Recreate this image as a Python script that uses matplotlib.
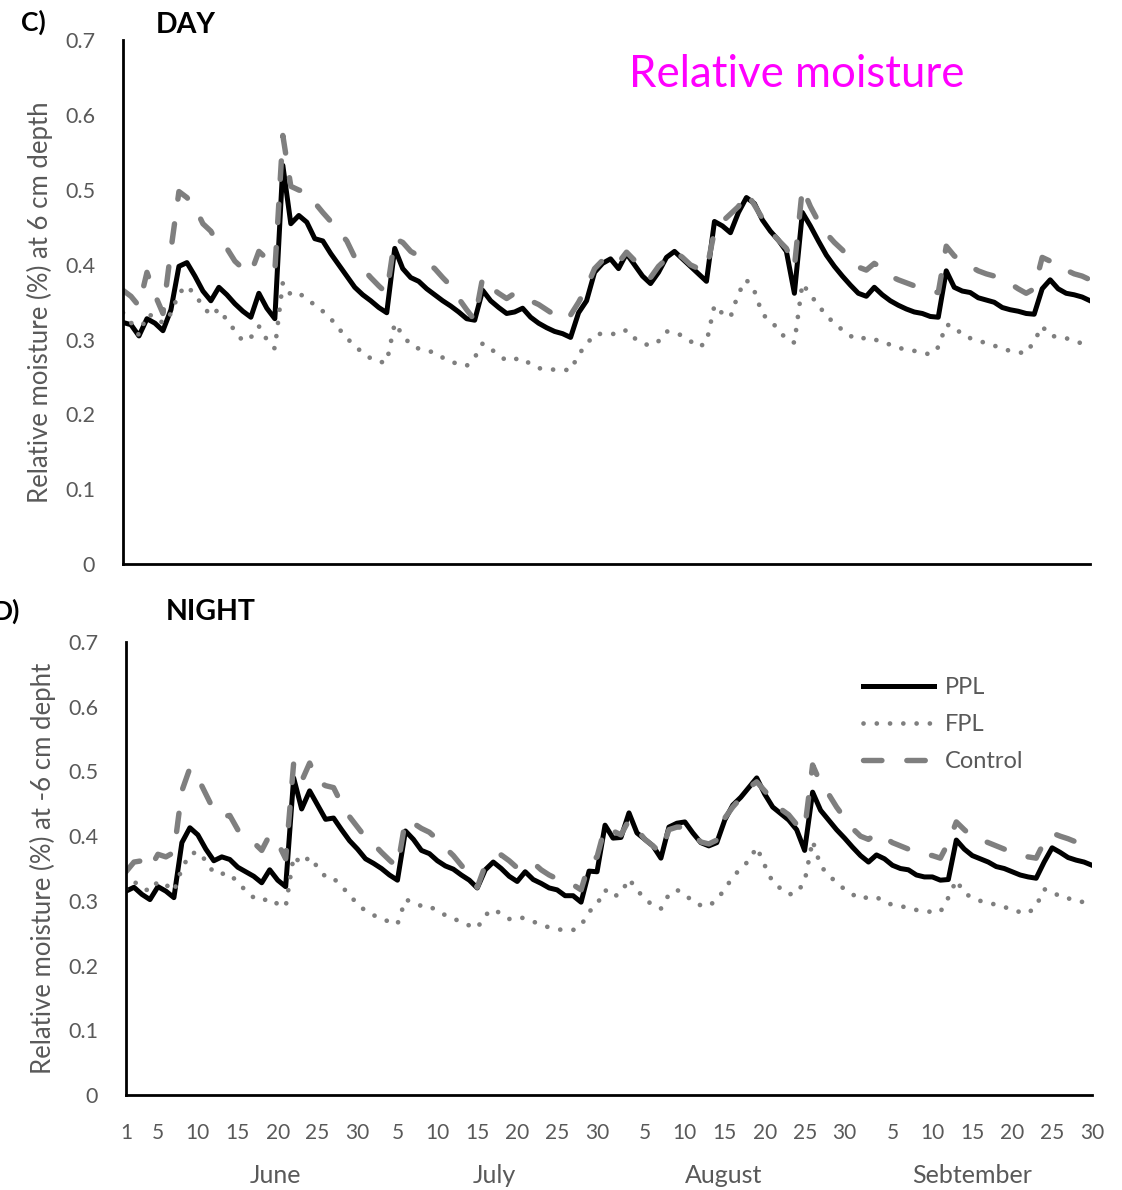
import matplotlib
matplotlib.use("Agg")
from matplotlib import pyplot as plt
from matplotlib import transforms

plt.rcParams['font.family'] = ['Lato', 'DejaVu Sans']

#Tick labels along the day axis (June 1 - September 30)
tick_pos = [0, 4, 9, 14, 19, 24, 29,
            34, 39, 44, 49, 54, 59,
            65, 70, 75, 80, 85, 90,
            96, 101, 106, 111, 116, 121]
tick_labels = ['1', '5', '10', '15', '20', '25', '30',
               '5', '10', '15', '20', '25', '30',
               '5', '10', '15', '20', '25', '30',
               '5', '10', '15', '20', '25', '30']
months = ['June', 'July', 'August', 'Sebtember']
month_pos = [18.7, 46.2, 74.8, 106.0]

#Day readings
ppl_day = [0.323, 0.320, 0.305, 0.328, 0.322, 0.312, 0.340, 0.398, 0.403, 0.385,
           0.365, 0.352, 0.370, 0.360, 0.348, 0.338, 0.330, 0.362, 0.342, 0.328,
           0.533, 0.455, 0.466, 0.457, 0.435, 0.432, 0.415, 0.400, 0.385, 0.370,
           0.360, 0.352, 0.343, 0.336, 0.422, 0.395, 0.383, 0.378, 0.368, 0.360,
           0.352, 0.345, 0.337, 0.328, 0.326, 0.366, 0.352, 0.343, 0.335, 0.337,
           0.342, 0.330, 0.322, 0.316, 0.311, 0.308, 0.303, 0.336, 0.352, 0.390,
           0.402, 0.408, 0.395, 0.415, 0.400, 0.385, 0.375, 0.390, 0.410, 0.418,
           0.408, 0.398, 0.388, 0.378, 0.458, 0.452, 0.443, 0.470, 0.490, 0.482,
           0.460, 0.445, 0.433, 0.418, 0.362, 0.470, 0.452, 0.432, 0.413, 0.398,
           0.385, 0.373, 0.362, 0.358, 0.370, 0.360, 0.352, 0.346, 0.341, 0.337,
           0.335, 0.331, 0.330, 0.392, 0.370, 0.365, 0.363, 0.356, 0.353, 0.350,
           0.343, 0.340, 0.338, 0.335, 0.334, 0.368, 0.380, 0.368, 0.362, 0.360,
           0.357, 0.352]
fpl_day = [0.336, 0.323, 0.306, 0.333, 0.332, 0.322, 0.335, 0.362, 0.372, 0.360,
           0.345, 0.332, 0.341, 0.326, 0.312, 0.298, 0.303, 0.318, 0.300, 0.288,
           0.376, 0.360, 0.362, 0.355, 0.346, 0.338, 0.328, 0.315, 0.302, 0.292,
           0.282, 0.275, 0.270, 0.270, 0.322, 0.306, 0.293, 0.288, 0.285, 0.283,
           0.276, 0.270, 0.268, 0.265, 0.276, 0.295, 0.288, 0.279, 0.272, 0.274,
           0.275, 0.267, 0.262, 0.260, 0.260, 0.260, 0.259, 0.280, 0.294, 0.307,
           0.308, 0.308, 0.307, 0.313, 0.302, 0.295, 0.292, 0.298, 0.311, 0.310,
           0.305, 0.298, 0.290, 0.296, 0.346, 0.335, 0.330, 0.362, 0.380, 0.365,
           0.334, 0.325, 0.314, 0.300, 0.296, 0.375, 0.360, 0.346, 0.332, 0.322,
           0.313, 0.305, 0.300, 0.303, 0.300, 0.298, 0.293, 0.289, 0.287, 0.285,
           0.283, 0.280, 0.290, 0.320, 0.318, 0.306, 0.302, 0.299, 0.295, 0.292,
           0.288, 0.285, 0.283, 0.282, 0.298, 0.318, 0.305, 0.304, 0.302, 0.298,
           0.295, 0.292]
control_day = [0.366, 0.358, 0.345, 0.390, 0.360, 0.335, 0.420, 0.498, 0.490, 0.477,
               0.455, 0.445, 0.425, 0.422, 0.405, 0.395, 0.389, 0.418, 0.408, 0.392,
               0.573, 0.505, 0.500, 0.497, 0.483, 0.470, 0.458, 0.445, 0.432, 0.410,
               0.395, 0.383, 0.372, 0.362, 0.435, 0.430, 0.418, 0.412, 0.403, 0.395,
               0.383, 0.372, 0.355, 0.340, 0.326, 0.383, 0.370, 0.362, 0.355, 0.362,
               0.358, 0.352, 0.347, 0.340, 0.333, 0.326, 0.333, 0.350, 0.370, 0.395,
               0.406, 0.410, 0.403, 0.417, 0.406, 0.395, 0.383, 0.398, 0.408, 0.418,
               0.410, 0.400, 0.395, 0.393, 0.445, 0.458, 0.468, 0.478, 0.497, 0.480,
               0.462, 0.445, 0.433, 0.422, 0.397, 0.503, 0.478, 0.458, 0.442, 0.430,
               0.420, 0.408, 0.397, 0.393, 0.402, 0.395, 0.385, 0.380, 0.376, 0.372,
               0.368, 0.365, 0.363, 0.425, 0.412, 0.405, 0.398, 0.392, 0.388, 0.385,
               0.381, 0.375, 0.368, 0.362, 0.368, 0.410, 0.405, 0.395, 0.393, 0.388,
               0.385, 0.380]

#Night readings
ppl_night = [0.315, 0.321, 0.310, 0.302, 0.322, 0.315, 0.305, 0.390, 0.413, 0.402,
             0.380, 0.362, 0.368, 0.364, 0.352, 0.345, 0.338, 0.328, 0.348, 0.332,
             0.322, 0.490, 0.442, 0.470, 0.448, 0.426, 0.428, 0.410, 0.393, 0.380,
             0.365, 0.358, 0.350, 0.340, 0.332, 0.408, 0.395, 0.378, 0.373, 0.362,
             0.354, 0.349, 0.340, 0.332, 0.320, 0.348, 0.360, 0.350, 0.338, 0.330,
             0.345, 0.333, 0.327, 0.320, 0.317, 0.308, 0.308, 0.298, 0.346, 0.345,
             0.417, 0.397, 0.398, 0.436, 0.405, 0.395, 0.385, 0.366, 0.414, 0.420,
             0.422, 0.405, 0.390, 0.385, 0.390, 0.425, 0.448, 0.460, 0.475, 0.490,
             0.465, 0.445, 0.435, 0.425, 0.410, 0.378, 0.468, 0.440, 0.425, 0.410,
             0.397, 0.383, 0.370, 0.360, 0.371, 0.365, 0.355, 0.350, 0.348, 0.340,
             0.337, 0.337, 0.332, 0.333, 0.394, 0.380, 0.370, 0.365, 0.360, 0.353,
             0.350, 0.345, 0.340, 0.337, 0.335, 0.360, 0.382, 0.375, 0.367, 0.363,
             0.360, 0.355]
fpl_night = [0.318, 0.330, 0.320, 0.315, 0.330, 0.325, 0.315, 0.350, 0.372, 0.376,
             0.362, 0.343, 0.342, 0.342, 0.328, 0.316, 0.305, 0.300, 0.304, 0.295,
             0.291, 0.369, 0.357, 0.368, 0.352, 0.337, 0.335, 0.322, 0.310, 0.294,
             0.285, 0.278, 0.272, 0.268, 0.264, 0.302, 0.298, 0.292, 0.292, 0.284,
             0.278, 0.273, 0.267, 0.262, 0.258, 0.278, 0.287, 0.280, 0.272, 0.275,
             0.273, 0.268, 0.263, 0.259, 0.256, 0.255, 0.255, 0.262, 0.283, 0.295,
             0.317, 0.306, 0.312, 0.334, 0.317, 0.303, 0.293, 0.288, 0.310, 0.317,
             0.310, 0.299, 0.293, 0.292, 0.302, 0.318, 0.337, 0.350, 0.362, 0.383,
             0.355, 0.329, 0.319, 0.310, 0.312, 0.330, 0.393, 0.354, 0.340, 0.328,
             0.318, 0.310, 0.303, 0.306, 0.306, 0.298, 0.294, 0.292, 0.289, 0.286,
             0.284, 0.283, 0.283, 0.305, 0.332, 0.312, 0.305, 0.300, 0.297, 0.294,
             0.291, 0.285, 0.283, 0.281, 0.292, 0.318, 0.315, 0.306, 0.304, 0.300,
             0.298, 0.296]
control_night = [0.345, 0.360, 0.362, 0.350, 0.372, 0.368, 0.375, 0.470, 0.505, 0.490,
                 0.465, 0.440, 0.430, 0.432, 0.410, 0.400, 0.390, 0.378, 0.402, 0.390,
                 0.365, 0.513, 0.485, 0.513, 0.485, 0.478, 0.475, 0.450, 0.430, 0.414,
                 0.398, 0.388, 0.375, 0.363, 0.352, 0.425, 0.420, 0.412, 0.406, 0.395,
                 0.382, 0.370, 0.355, 0.340, 0.321, 0.355, 0.365, 0.371, 0.362, 0.351,
                 0.355, 0.359, 0.348, 0.340, 0.334, 0.330, 0.325, 0.317, 0.358, 0.368,
                 0.414, 0.408, 0.402, 0.425, 0.410, 0.395, 0.385, 0.374, 0.410, 0.414,
                 0.414, 0.403, 0.391, 0.388, 0.394, 0.428, 0.445, 0.459, 0.475, 0.484,
                 0.470, 0.456, 0.442, 0.433, 0.418, 0.410, 0.510, 0.482, 0.465, 0.445,
                 0.428, 0.412, 0.400, 0.395, 0.405, 0.398, 0.390, 0.385, 0.380, 0.375,
                 0.372, 0.370, 0.366, 0.390, 0.422, 0.410, 0.399, 0.395, 0.390, 0.385,
                 0.380, 0.376, 0.372, 0.368, 0.366, 0.391, 0.405, 0.400, 0.396, 0.391,
                 0.388, 0.385]

days = list(range(len(ppl_day)))
grey = '#7f7f7f'
text_grey = '#595959'


def draw_panel(ax, ppl, fpl, control):
    ax.plot(days, ppl, color='black', lw=3.6, solid_joinstyle='round', label='PPL')
    ax.plot(days, fpl, color=grey, lw=3.4, dashes=(0.01, 2.8),
            dash_capstyle='round', label='FPL')
    ax.plot(days, control, color=grey, lw=3.9, dashes=(3.4, 4.6),
            dash_capstyle='round', label='Control')
    ax.set_xlim(0, 121)
    ax.set_ylim(0, 0.7)
    ax.set_yticks([0, 0.1, 0.2, 0.3, 0.4, 0.5, 0.6, 0.7])
    ax.set_yticklabels(['0', '0.1', '0.2', '0.3', '0.4', '0.5', '0.6', '0.7'])
    ax.tick_params(axis='y', length=0, pad=20, labelsize=15.5, labelcolor=text_grey)
    for side in ['top', 'right']:
        ax.spines[side].set_visible(False)
    ax.spines['left'].set_linewidth(2)
    ax.spines['bottom'].set_linewidth(2)


fig = plt.figure(figsize=(11.22, 11.9), dpi=100)

#Top panel - day
ax1 = fig.add_axes([0.1096, 0.526, 0.862, 0.440])
draw_panel(ax1, ppl_day, fpl_day, control_day)
ax1.set_xticks([])
ax1.set_ylabel('Relative moisture (%) at 6 cm depth', fontsize=18.5, color=text_grey,
               labelpad=9)
fig.text(0.019, 0.981, 'C)', fontsize=19, fontweight='bold', ha='left', va='center')
fig.text(0.139, 0.979, 'DAY', fontsize=20.5, fontweight='bold', ha='left', va='center')
ax1.text(0.523, 0.935, 'Relative moisture', transform=ax1.transAxes, fontsize=31.5,
         color='#ff00ff', ha='left', va='center')

#Bottom panel - night
ax2 = fig.add_axes([0.1123, 0.0798, 0.861, 0.3807])
draw_panel(ax2, ppl_night, fpl_night, control_night)
ax2.set_xticks(tick_pos)
ax2.set_xticklabels(tick_labels)
ax2.tick_params(axis='x', length=0, pad=20, labelsize=15, labelcolor=text_grey)
ax2.set_ylabel('Relative moisture (%) at -6 cm depht', fontsize=18.5, color=text_grey,
               labelpad=9)
fig.text(-0.006, 0.486, 'D)', fontsize=19, fontweight='bold', ha='left', va='center')
fig.text(0.148, 0.486, 'NIGHT', fontsize=20.5, fontweight='bold', ha='left', va='center')

#Month names under the day numbers
trans = transforms.blended_transform_factory(ax2.transData, fig.transFigure)
for name, pos in zip(months, month_pos):
    ax2.text(pos, 0.012, name, transform=trans, fontsize=18, color=text_grey,
             ha='center', va='center')

leg = ax2.legend(loc='upper left', bbox_to_anchor=(0.741, 0.970), frameon=False,
                 fontsize=17, handlelength=3.0, labelspacing=0.68, handletextpad=0.45)
for t in leg.get_texts():
    t.set_color(text_grey)

fig.savefig('out.png', dpi=100)
